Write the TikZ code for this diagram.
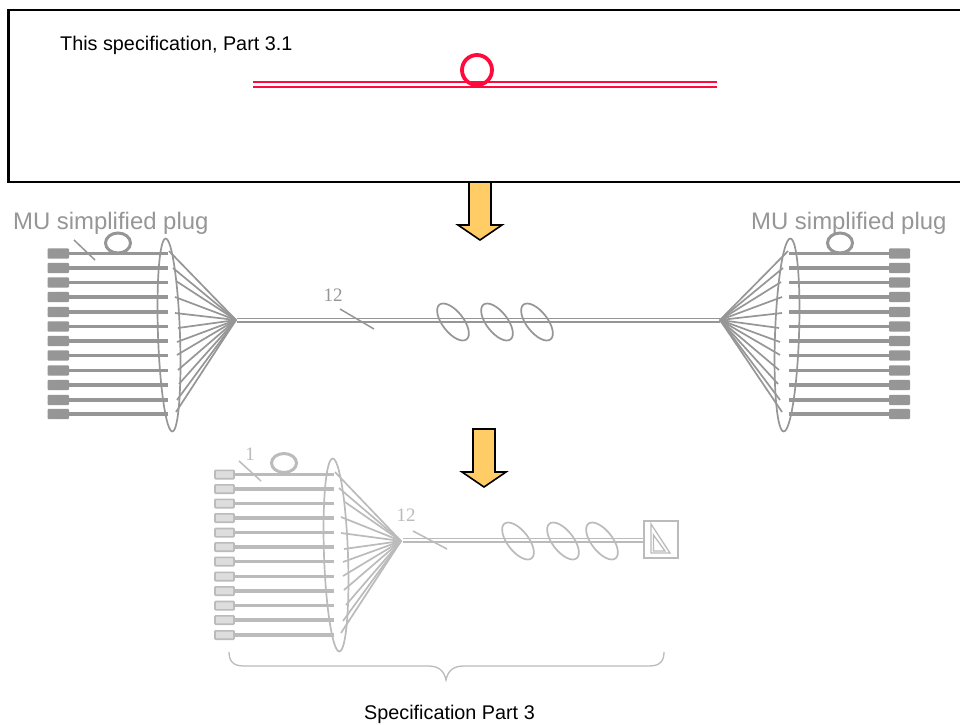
\documentclass[tikz,border=0pt]{standalone}
\usepackage{fontspec}
\setmainfont{Liberation Sans}
\newfontfamily\numfont{Liberation Serif}
\definecolor{gd}{HTML}{969696}
\definecolor{gl}{HTML}{BBBBBB}
\definecolor{pf}{HTML}{DDDDDD}
\definecolor{rd}{HTML}{FF0A3C}
\definecolor{og}{HTML}{FFCC66}
\tikzset{
  bigarrow/.style={draw=black,line width=1.6pt,fill=og,line join=miter},
  caption/.style={inner sep=0pt,text=black,font=\fontsize{19.8}{22}\selectfont},
  pluglabel/.style={inner sep=0pt,text=gd,font=\fontsize{23.9}{26}\selectfont},
  countlabel/.style={inner sep=0pt,font=\numfont\fontsize{19}{21}\selectfont},
  fibre/.style={line width=3.4pt},
  fan/.style={line width=1.7pt},
  thin cable/.style={line width=1.6pt},
  lens/.style={line width=1.7pt},
  coil/.style={line width=1.7pt},
  loopring/.style={line width=3pt},
}
\begin{document}
\begin{tikzpicture}[x=1pt,y=-1pt]
\useasboundingbox (0,0) rectangle (960,724);
\fill[white] (0,0) rectangle (960,724);
% top box
\draw[black,line width=2.2pt] (960,10) -- (8.5,10) -- (8.5,182) -- (960,182);
\node[caption,anchor=west] (spec31) at (60,45) {This specification, Part 3.1};
\draw[rd,line width=1.7pt] (253,81.7) -- (717,81.7) (253,86.7) -- (717,86.7);
\draw[rd,line width=3.8pt] (477,70) circle (15);
% arrows
\draw[bigarrow] (469,182) -- (491,182) -- (491,225) -- (502,225) -- (480,240) -- (458,225) -- (469,225) -- cycle;
\draw[bigarrow] (473,429) -- (495,429) -- (495,472) -- (506,472) -- (484,487) -- (462,472) -- (473,472) -- cycle;
% labels
\node[pluglabel,anchor=west] (pl) at (13,223) {MU simplified plug};
\node[pluglabel,anchor=west] (pr) at (751,223) {MU simplified plug};
\node[countlabel,text=gd] (n12a) at (333,295.5) {12};
\node[countlabel,text=gl] (n1) at (250,454) {1};
\node[countlabel,text=gl] (n12b) at (406,515) {12};
\node[caption] (spec3) at (449.5,714.5) {Specification Part 3};
% left assembly
\begin{scope}[gd]
  \foreach \py/\fx/\fy in {253.5/169/251,268/173/268,282.5/176/281,297/175/297,312/175/313,326.5/178/328,341/177/342,355.5/177/355,370.5/178/370,385/179/384,400/177/400,414/176/412}{
    \fill[rounded corners=1pt] (47.5,\py-5.2) rectangle (69,\py+5.2);
    \draw[fibre] (69,\py) -- (168,\py);
    \draw[fan] (\fx,\fy) -- (236,320);
  }
  \draw[lens] (169,335) ellipse [x radius=11,y radius=96.5,rotate=2];
  \draw[loopring] (118,243) ellipse [x radius=12.5,y radius=10];
  \draw[line width=1.5pt] (74,240) -- (95,260);
  \draw[line width=1.5pt] (340,309) -- (374,329);
  % right assembly
  \foreach \py/\fx/\fy in {253.5/788/251,268/783/268,282.5/781/282,297/782/297,312/782/313,326.5/779/328,341/780/342,355.5/780/355,370.5/779/370,385/778/384,400/780/400,414/782/412}{
    \fill[rounded corners=1pt] (889,\py-5.2) rectangle (910,\py+5.2);
    \draw[fibre] (789,\py) -- (889,\py);
    \draw[fan] (\fx,\fy) -- (720,320);
  }
  \draw[lens] (787,335) ellipse [x radius=12,y radius=96.5,rotate=-2];
  \draw[loopring] (840,243) ellipse [x radius=12.5,y radius=10];
  % cable
  \draw[thin cable] (237,318.5) -- (720,318.5) (237,322) -- (720,322);
  \foreach \cx in {453,497,537}
    \draw[coil] (\cx,322) ellipse [x radius=22,y radius=10.5,rotate=-52];
\end{scope}
% bottom assembly
\begin{scope}[gl]
  \foreach \py/\fx/\fy in {474.5/335/472,489/339/488,503.5/345/502,518/341/517,532.7/341/533,547/344/549,561.5/343/562,576.5/343/576,591/344/590,605.7/346/605,620/343/621,635/341/633}{
    \filldraw[fill=pf,line width=1.6pt,rounded corners=0.8pt] (215,\py-4.2) rectangle (234,\py+4.2);
    \draw[fibre] (234,\py) -- (334,\py);
    \draw[fan] (\fx,\fy) -- (401,541);
  }
  \draw[lens] (336,555) ellipse [x radius=12,y radius=96.5,rotate=2];
  \draw[loopring] (284,463) ellipse [x radius=12.5,y radius=9.5];
  \draw[line width=1.5pt] (239,461) -- (261,481);
  \draw[line width=1.5pt] (413,531) -- (447,549);
  \draw[thin cable] (403,538.5) -- (645,538.5) (403,542) -- (645,542);
  \foreach \cx in {518,563,602}
    \draw[coil] (\cx,541) ellipse [x radius=22,y radius=10.5,rotate=-52];
  \draw[line width=1.6pt] (644,521) rectangle (678,558);
  \draw[line width=1.3pt,line join=miter] (651,524) -- (670,553) -- (651,553) -- cycle;
  \draw[line width=1.3pt,line join=miter] (653.5,535) -- (665,551) -- (653.5,551) -- cycle;
  % brace
  \draw[line width=1.3pt] (229,652) .. controls (229,661) and (233,666) .. (244,666)
    -- (428,666) .. controls (438,666) and (444,670) .. (446,680)
    .. controls (448,670) and (454,666) .. (464,666)
    -- (649,666) .. controls (660,666) and (664,661) .. (664,652);
\end{scope}
\end{tikzpicture}
\end{document}
